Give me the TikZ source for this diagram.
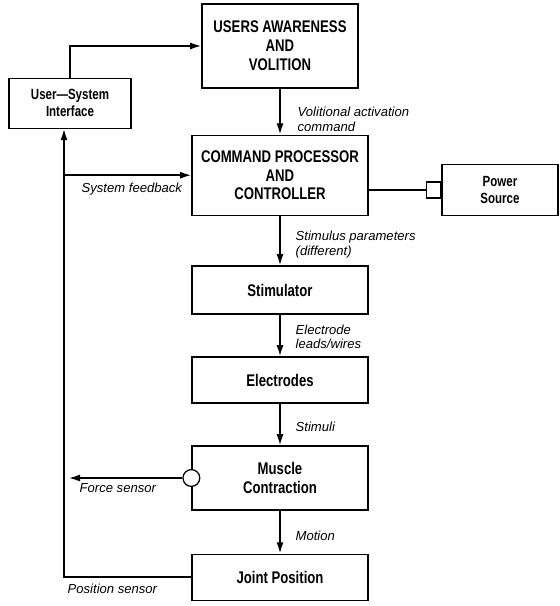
\documentclass[tikz,border=0pt]{standalone}
\usepackage{fontspec}
\setmainfont{Liberation Sans}
\newfontfamily\condfont[FakeStretch=0.78]{Liberation Sans}
\usetikzlibrary{arrows.meta}

\begin{document}
\begin{tikzpicture}[font=\small]
\tikzset{
    BX/.style={draw, line width=0.9pt, align=center, inner sep=2pt,
               font=\condfont\bfseries\fontsize{12}{13.5}\selectfont},
    BXS/.style={BX, font=\condfont\bfseries\fontsize{10.5}{12}\selectfont},
    LB/.style={font=\itshape\fontsize{9.3}{10.5}\selectfont,
               align=left, anchor=west, inner sep=1pt},
    AR/.style={line width=1.2pt, -{Latex[length=8pt,width=5pt]}},
    LN/.style={line width=1.2pt},
}

\useasboundingbox (0,0) rectangle (14,-15.15);

%── Blocks ─────────────────────────────────────────────────────
\node[BX, minimum width=3.90cm, minimum height=2.10cm] (users) at (7.00,  -1.15) {USERS AWARENESS\\AND\\VOLITION};
\node[BXS, minimum width=3.05cm, minimum height=1.25cm] (iface) at (1.75,  -2.58) {User—System\\Interface};
\node[BX, minimum width=4.40cm, minimum height=2.00cm] (ctrl)  at (7.00,  -4.38) {COMMAND PROCESSOR\\AND\\CONTROLLER};
\node[BXS, minimum width=2.90cm, minimum height=1.28cm,
      font=\condfont\bfseries\fontsize{10.5}{12}\selectfont] (power) at (12.50, -4.75) {Power\\Source};
\node[BX, minimum width=4.40cm, minimum height=1.20cm] (stim)  at (7.00,  -7.25) {Stimulator};
\node[BX, minimum width=4.40cm, minimum height=1.15cm] (elec)  at (7.00,  -9.50) {Electrodes};
\node[BX, minimum width=4.40cm, minimum height=1.60cm] (musc)  at (7.00, -11.95) {Muscle\\Contraction};
\node[BX, minimum width=4.40cm, minimum height=1.15cm] (joint) at (7.00, -14.43) {Joint Position};

% plug on the power source, force sensor on the muscle
\node[draw, line width=0.9pt, fill=white, minimum width=0.35cm, minimum height=0.40cm,
      inner sep=0pt, anchor=east] (plug) at (power.west) {};
\node[draw, circle, line width=0.9pt, fill=white, minimum size=0.42cm, inner sep=0pt] (fsens) at (musc.west) {};

% feedback line
\coordinate (fbx) at (1.60, 0);

%── Forward path ───────────────────────────────────────────────
\draw[AR] (iface.north) |- (users.west);
\draw[AR] (users.south) -- (ctrl.north);
\draw[AR] (ctrl.south)  -- (stim.north);
\draw[AR] (stim.south)  -- (elec.north);
\draw[AR] (elec.south)  -- (musc.north);
\draw[AR] (musc.south)  -- (joint.north);
\draw[LN] (plug.west) -- (plug.west -| ctrl.east);

%── Feedback ───────────────────────────────────────────────────
\draw[AR] (joint.west) -- (fbx |- joint.west) -- (fbx |- iface.south);
\draw[AR] (fbx |- ctrl.west) -- (ctrl.west);
\draw[AR, shorten >=0.12cm] (fsens.west) -- (fbx |- fsens.west);

%── Labels ─────────────────────────────────────────────────────
\node[LB] (lvol)  at (7.40,  -2.98) {Volitional activation\\command};
\node[LB] (lstim) at (7.35,  -6.12) {Stimulus parameters\\(different)};
\node[LB] (lelec) at (7.35,  -8.42) {Electrode\\leads/wires};
\node[LB] (lsti)  at (7.35, -10.68) {Stimuli};
\node[LB] (lmot)  at (7.35, -13.40) {Motion};
\node[LB] (lsys)  at (2.00,  -4.72) {System feedback};
\node[LB] (lfor)  at (1.95, -12.20) {Force sensor};
\node[LB] (lpos)  at (1.65, -14.72) {Position sensor};

\end{tikzpicture}
\end{document}
